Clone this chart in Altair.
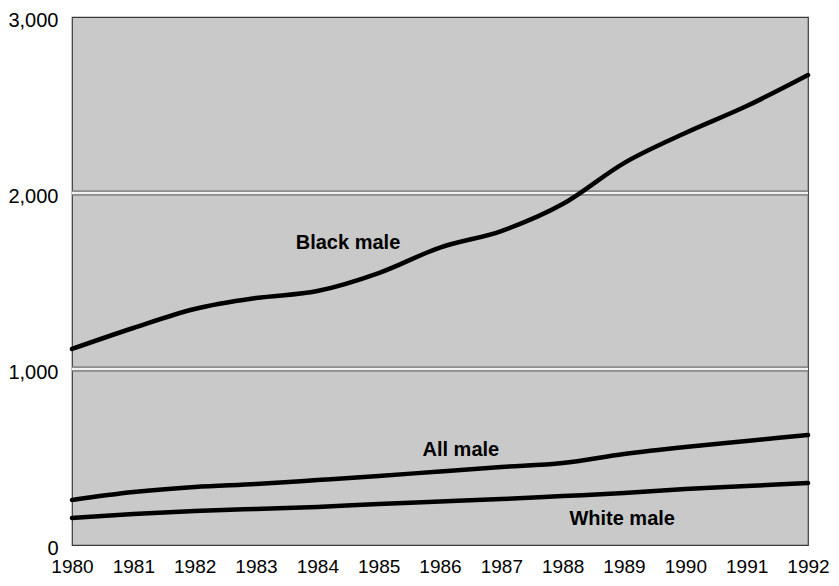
import altair as alt
import pandas as pd

years = list(range(1980, 1993))
black_male = [1114, 1233, 1341, 1403, 1443, 1545, 1690, 1784, 1937, 2170, 2341, 2494, 2670]
all_male = [256, 301, 330, 347, 369, 392, 418, 443, 466, 517, 557, 591, 625]
white_male = [153, 176, 193, 205, 216, 233, 247, 261, 278, 295, 318, 335, 352]

label_text = ["Black male", "All male", "White male"]
label_year = [1984.5, 1986.34, 1988.97]
label_value = [1716, 540, 148]

grid_values = [1000, 2000]
y_ticks = [0, 1000, 2000, 3000]

rows = []
for name, vals in [("Black male", black_male), ("All male", all_male), ("White male", white_male)]:
    for yr, v in zip(years, vals):
        rows.append({"series": name, "year": yr, "value": v})
df = pd.DataFrame(rows)
labels = pd.DataFrame({"text": label_text, "year": label_year, "value": label_value})
grid = pd.DataFrame({"value": grid_values})

x_scale = alt.Scale(domain=[1980, 1992], nice=False, zero=False)
y_scale = alt.Scale(domain=[0, 3000], nice=False)

x_enc = alt.X("year:Q", scale=x_scale,
              axis=alt.Axis(values=years, format="d", title=None, labelFontSize=19,
                            labelFont="Liberation Sans", labelColor="black",
                            domain=False, ticks=False, grid=False, labelPadding=12,
                            labelFlush=False, labelOverlap=False))
y_enc = alt.Y("value:Q", scale=y_scale,
              axis=alt.Axis(values=y_ticks, format=",.0f", title=None, labelFontSize=20,
                            labelFont="Liberation Sans", labelColor="black",
                            domain=False, ticks=False, grid=False, labelPadding=14,
                            labelOffset=3, labelFlush=False, labelOverlap=False))

grid_dark = alt.Chart(grid).mark_rule(color="#6a6a6a", strokeWidth=5).encode(
    y=alt.Y("value:Q", scale=y_scale))
grid_light = alt.Chart(grid).mark_rule(color="#f2f2f2", strokeWidth=2.5).encode(
    y=alt.Y("value:Q", scale=y_scale))

lines = alt.Chart(df).mark_line(color="black", strokeWidth=4.5, strokeCap="round",
                                interpolate="monotone").encode(
    x=x_enc, y=y_enc, detail="series:N")

texts = alt.Chart(labels).mark_text(font="Liberation Sans", fontSize=20, fontWeight="bold",
                                    color="black", align="center", baseline="middle").encode(
    x=alt.X("year:Q", scale=x_scale), y=alt.Y("value:Q", scale=y_scale), text="text:N")

chart = alt.layer(grid_dark, grid_light, lines, texts).properties(
    width=736, height=528,
    autosize=alt.AutoSizeParams(type="none"),
    padding={"left": 64, "top": 9, "right": 23, "bottom": 32},
    background="white",
).configure_view(fill="#c9c9c9", stroke="#3a3a3a", strokeWidth=1.2)

chart.save("out.html", embed_options={"renderer": "svg", "actions": False})
